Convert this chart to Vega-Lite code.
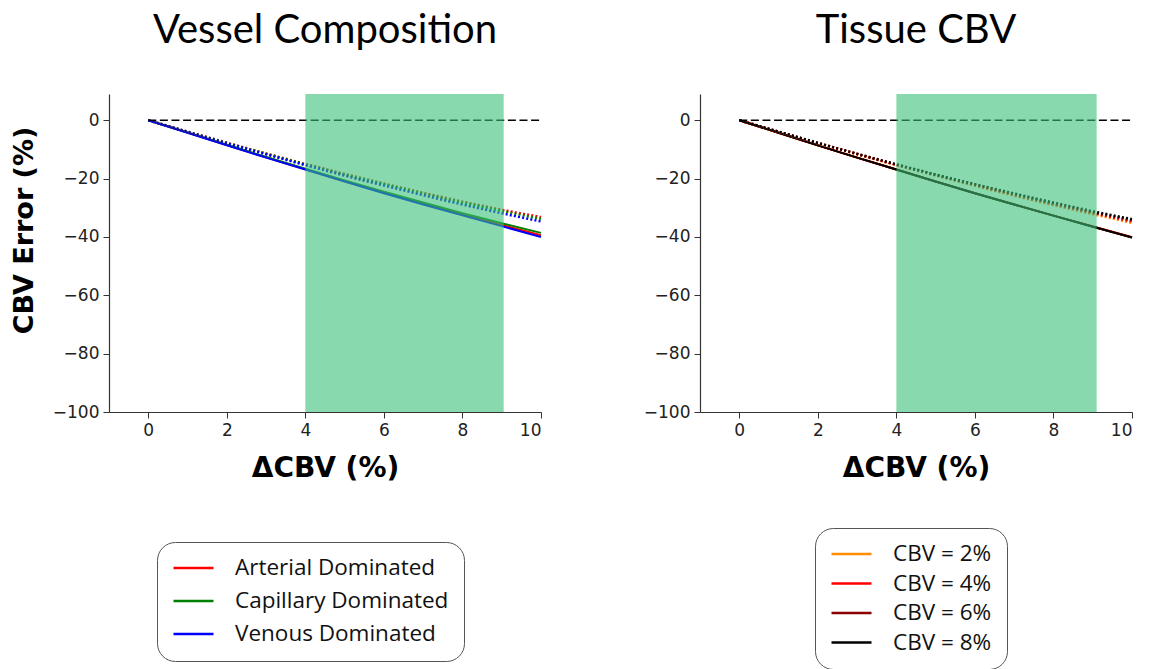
{
  "$schema": "https://vega.github.io/schema/vega-lite/v6.json",
  "padding": {"left": 10, "top": 11, "right": 5, "bottom": 0},
  "background": "white",
  "spacing": 97,
  "config": {
    "view": {"stroke": null},
    "axis": {
      "grid": false,
      "domainColor": "#333",
      "domainWidth": 1.2,
      "tickColor": "#333",
      "tickSize": 6,
      "labelFont": "DejaVu Sans",
      "labelFontSize": 17,
      "labelColor": "#222",
      "labelPadding": 4,
      "titleFont": "DejaVu Sans",
      "titleFontWeight": "bold",
      "titleColor": "#000"
    },
    "title": {"font": "Lato", "fontSize": 40, "fontWeight": "normal", "color": "#000", "offset": 43},
    "legend": {
      "strokeColor": "#555",
      "cornerRadius": 18,
      "padding": 15,
      "fillColor": "white",
      "labelFont": "Open Sans",
      "labelFontSize": 22.5,
      "labelColor": "#111",
      "symbolType": "stroke",
      "symbolSize": 1600,
      "symbolStrokeWidth": 2.5,
      "labelOffset": 20,
      "labelLimit": 400,
      "clipHeight": 22
    }
  },
  "datasets": {
    "left": [
      {"series": "Arterial Dominated", "kind": "solid", "x": 0, "y": 0},
      {"series": "Arterial Dominated", "kind": "solid", "x": 1, "y": -4.25},
      {"series": "Arterial Dominated", "kind": "solid", "x": 2, "y": -8.5},
      {"series": "Arterial Dominated", "kind": "solid", "x": 3, "y": -12.7},
      {"series": "Arterial Dominated", "kind": "solid", "x": 4, "y": -16.8},
      {"series": "Arterial Dominated", "kind": "solid", "x": 5, "y": -20.8},
      {"series": "Arterial Dominated", "kind": "solid", "x": 6, "y": -24.8},
      {"series": "Arterial Dominated", "kind": "solid", "x": 7, "y": -28.6},
      {"series": "Arterial Dominated", "kind": "solid", "x": 8, "y": -32.3},
      {"series": "Arterial Dominated", "kind": "solid", "x": 9, "y": -35.9},
      {"series": "Arterial Dominated", "kind": "solid", "x": 10, "y": -39.4},
      {"series": "Capillary Dominated", "kind": "solid", "x": 0, "y": 0},
      {"series": "Capillary Dominated", "kind": "solid", "x": 1, "y": -4.2},
      {"series": "Capillary Dominated", "kind": "solid", "x": 2, "y": -8.4},
      {"series": "Capillary Dominated", "kind": "solid", "x": 3, "y": -12.6},
      {"series": "Capillary Dominated", "kind": "solid", "x": 4, "y": -16.6},
      {"series": "Capillary Dominated", "kind": "solid", "x": 5, "y": -20.6},
      {"series": "Capillary Dominated", "kind": "solid", "x": 6, "y": -24.5},
      {"series": "Capillary Dominated", "kind": "solid", "x": 7, "y": -28.2},
      {"series": "Capillary Dominated", "kind": "solid", "x": 8, "y": -31.9},
      {"series": "Capillary Dominated", "kind": "solid", "x": 9, "y": -35.3},
      {"series": "Capillary Dominated", "kind": "solid", "x": 10, "y": -38.6},
      {"series": "Venous Dominated", "kind": "solid", "x": 0, "y": 0},
      {"series": "Venous Dominated", "kind": "solid", "x": 1, "y": -4.3},
      {"series": "Venous Dominated", "kind": "solid", "x": 2, "y": -8.6},
      {"series": "Venous Dominated", "kind": "solid", "x": 3, "y": -12.8},
      {"series": "Venous Dominated", "kind": "solid", "x": 4, "y": -16.9},
      {"series": "Venous Dominated", "kind": "solid", "x": 5, "y": -21.0},
      {"series": "Venous Dominated", "kind": "solid", "x": 6, "y": -25.0},
      {"series": "Venous Dominated", "kind": "solid", "x": 7, "y": -28.9},
      {"series": "Venous Dominated", "kind": "solid", "x": 8, "y": -32.6},
      {"series": "Venous Dominated", "kind": "solid", "x": 9, "y": -36.3},
      {"series": "Venous Dominated", "kind": "solid", "x": 10, "y": -40.0},
      {"series": "Arterial Dominated", "kind": "dotted", "x": 0, "y": 0},
      {"series": "Arterial Dominated", "kind": "dotted", "x": 1, "y": -3.9},
      {"series": "Arterial Dominated", "kind": "dotted", "x": 2, "y": -7.7},
      {"series": "Arterial Dominated", "kind": "dotted", "x": 3, "y": -11.4},
      {"series": "Arterial Dominated", "kind": "dotted", "x": 4, "y": -15.0},
      {"series": "Arterial Dominated", "kind": "dotted", "x": 5, "y": -18.4},
      {"series": "Arterial Dominated", "kind": "dotted", "x": 6, "y": -21.7},
      {"series": "Arterial Dominated", "kind": "dotted", "x": 7, "y": -24.9},
      {"series": "Arterial Dominated", "kind": "dotted", "x": 8, "y": -27.9},
      {"series": "Arterial Dominated", "kind": "dotted", "x": 9, "y": -30.7},
      {"series": "Arterial Dominated", "kind": "dotted", "x": 10, "y": -33.2},
      {"series": "Capillary Dominated", "kind": "dotted", "x": 0, "y": 0},
      {"series": "Capillary Dominated", "kind": "dotted", "x": 1, "y": -3.9},
      {"series": "Capillary Dominated", "kind": "dotted", "x": 2, "y": -7.8},
      {"series": "Capillary Dominated", "kind": "dotted", "x": 3, "y": -11.5},
      {"series": "Capillary Dominated", "kind": "dotted", "x": 4, "y": -15.1},
      {"series": "Capillary Dominated", "kind": "dotted", "x": 5, "y": -18.6},
      {"series": "Capillary Dominated", "kind": "dotted", "x": 6, "y": -21.9},
      {"series": "Capillary Dominated", "kind": "dotted", "x": 7, "y": -25.1},
      {"series": "Capillary Dominated", "kind": "dotted", "x": 8, "y": -28.2},
      {"series": "Capillary Dominated", "kind": "dotted", "x": 9, "y": -31.1},
      {"series": "Capillary Dominated", "kind": "dotted", "x": 10, "y": -33.8},
      {"series": "Venous Dominated", "kind": "dotted", "x": 0, "y": 0},
      {"series": "Venous Dominated", "kind": "dotted", "x": 1, "y": -4.0},
      {"series": "Venous Dominated", "kind": "dotted", "x": 2, "y": -7.9},
      {"series": "Venous Dominated", "kind": "dotted", "x": 3, "y": -11.7},
      {"series": "Venous Dominated", "kind": "dotted", "x": 4, "y": -15.4},
      {"series": "Venous Dominated", "kind": "dotted", "x": 5, "y": -19.0},
      {"series": "Venous Dominated", "kind": "dotted", "x": 6, "y": -22.4},
      {"series": "Venous Dominated", "kind": "dotted", "x": 7, "y": -25.7},
      {"series": "Venous Dominated", "kind": "dotted", "x": 8, "y": -28.9},
      {"series": "Venous Dominated", "kind": "dotted", "x": 9, "y": -31.9},
      {"series": "Venous Dominated", "kind": "dotted", "x": 10, "y": -34.7}
    ],
    "right": [
      {"series": "CBV = 2%", "kind": "solid", "x": 0, "y": 0},
      {"series": "CBV = 2%", "kind": "solid", "x": 1, "y": -4.3},
      {"series": "CBV = 2%", "kind": "solid", "x": 2, "y": -8.6},
      {"series": "CBV = 2%", "kind": "solid", "x": 3, "y": -12.8},
      {"series": "CBV = 2%", "kind": "solid", "x": 4, "y": -16.9},
      {"series": "CBV = 2%", "kind": "solid", "x": 5, "y": -21.0},
      {"series": "CBV = 2%", "kind": "solid", "x": 6, "y": -25.0},
      {"series": "CBV = 2%", "kind": "solid", "x": 7, "y": -28.9},
      {"series": "CBV = 2%", "kind": "solid", "x": 8, "y": -32.7},
      {"series": "CBV = 2%", "kind": "solid", "x": 9, "y": -36.4},
      {"series": "CBV = 2%", "kind": "solid", "x": 10, "y": -40.1},
      {"series": "CBV = 4%", "kind": "solid", "x": 0, "y": 0},
      {"series": "CBV = 4%", "kind": "solid", "x": 1, "y": -4.3},
      {"series": "CBV = 4%", "kind": "solid", "x": 2, "y": -8.6},
      {"series": "CBV = 4%", "kind": "solid", "x": 3, "y": -12.8},
      {"series": "CBV = 4%", "kind": "solid", "x": 4, "y": -16.9},
      {"series": "CBV = 4%", "kind": "solid", "x": 5, "y": -21.0},
      {"series": "CBV = 4%", "kind": "solid", "x": 6, "y": -25.0},
      {"series": "CBV = 4%", "kind": "solid", "x": 7, "y": -28.9},
      {"series": "CBV = 4%", "kind": "solid", "x": 8, "y": -32.7},
      {"series": "CBV = 4%", "kind": "solid", "x": 9, "y": -36.4},
      {"series": "CBV = 4%", "kind": "solid", "x": 10, "y": -40.1},
      {"series": "CBV = 6%", "kind": "solid", "x": 0, "y": 0},
      {"series": "CBV = 6%", "kind": "solid", "x": 1, "y": -4.3},
      {"series": "CBV = 6%", "kind": "solid", "x": 2, "y": -8.6},
      {"series": "CBV = 6%", "kind": "solid", "x": 3, "y": -12.8},
      {"series": "CBV = 6%", "kind": "solid", "x": 4, "y": -16.9},
      {"series": "CBV = 6%", "kind": "solid", "x": 5, "y": -21.0},
      {"series": "CBV = 6%", "kind": "solid", "x": 6, "y": -25.0},
      {"series": "CBV = 6%", "kind": "solid", "x": 7, "y": -28.9},
      {"series": "CBV = 6%", "kind": "solid", "x": 8, "y": -32.7},
      {"series": "CBV = 6%", "kind": "solid", "x": 9, "y": -36.4},
      {"series": "CBV = 6%", "kind": "solid", "x": 10, "y": -40.2},
      {"series": "CBV = 8%", "kind": "solid", "x": 0, "y": 0},
      {"series": "CBV = 8%", "kind": "solid", "x": 1, "y": -4.3},
      {"series": "CBV = 8%", "kind": "solid", "x": 2, "y": -8.6},
      {"series": "CBV = 8%", "kind": "solid", "x": 3, "y": -12.8},
      {"series": "CBV = 8%", "kind": "solid", "x": 4, "y": -16.9},
      {"series": "CBV = 8%", "kind": "solid", "x": 5, "y": -21.0},
      {"series": "CBV = 8%", "kind": "solid", "x": 6, "y": -25.0},
      {"series": "CBV = 8%", "kind": "solid", "x": 7, "y": -28.9},
      {"series": "CBV = 8%", "kind": "solid", "x": 8, "y": -32.7},
      {"series": "CBV = 8%", "kind": "solid", "x": 9, "y": -36.5},
      {"series": "CBV = 8%", "kind": "solid", "x": 10, "y": -40.2},
      {"series": "CBV = 2%", "kind": "dotted", "x": 0, "y": 0},
      {"series": "CBV = 2%", "kind": "dotted", "x": 1, "y": -4.0},
      {"series": "CBV = 2%", "kind": "dotted", "x": 2, "y": -7.9},
      {"series": "CBV = 2%", "kind": "dotted", "x": 3, "y": -11.7},
      {"series": "CBV = 2%", "kind": "dotted", "x": 4, "y": -15.4},
      {"series": "CBV = 2%", "kind": "dotted", "x": 5, "y": -19.0},
      {"series": "CBV = 2%", "kind": "dotted", "x": 6, "y": -22.5},
      {"series": "CBV = 2%", "kind": "dotted", "x": 7, "y": -25.9},
      {"series": "CBV = 2%", "kind": "dotted", "x": 8, "y": -29.1},
      {"series": "CBV = 2%", "kind": "dotted", "x": 9, "y": -32.2},
      {"series": "CBV = 2%", "kind": "dotted", "x": 10, "y": -35.2},
      {"series": "CBV = 4%", "kind": "dotted", "x": 0, "y": 0},
      {"series": "CBV = 4%", "kind": "dotted", "x": 1, "y": -3.95},
      {"series": "CBV = 4%", "kind": "dotted", "x": 2, "y": -7.85},
      {"series": "CBV = 4%", "kind": "dotted", "x": 3, "y": -11.6},
      {"series": "CBV = 4%", "kind": "dotted", "x": 4, "y": -15.3},
      {"series": "CBV = 4%", "kind": "dotted", "x": 5, "y": -18.8},
      {"series": "CBV = 4%", "kind": "dotted", "x": 6, "y": -22.2},
      {"series": "CBV = 4%", "kind": "dotted", "x": 7, "y": -25.6},
      {"series": "CBV = 4%", "kind": "dotted", "x": 8, "y": -28.8},
      {"series": "CBV = 4%", "kind": "dotted", "x": 9, "y": -31.8},
      {"series": "CBV = 4%", "kind": "dotted", "x": 10, "y": -34.7},
      {"series": "CBV = 6%", "kind": "dotted", "x": 0, "y": 0},
      {"series": "CBV = 6%", "kind": "dotted", "x": 1, "y": -3.9},
      {"series": "CBV = 6%", "kind": "dotted", "x": 2, "y": -7.8},
      {"series": "CBV = 6%", "kind": "dotted", "x": 3, "y": -11.55},
      {"series": "CBV = 6%", "kind": "dotted", "x": 4, "y": -15.2},
      {"series": "CBV = 6%", "kind": "dotted", "x": 5, "y": -18.7},
      {"series": "CBV = 6%", "kind": "dotted", "x": 6, "y": -22.1},
      {"series": "CBV = 6%", "kind": "dotted", "x": 7, "y": -25.3},
      {"series": "CBV = 6%", "kind": "dotted", "x": 8, "y": -28.5},
      {"series": "CBV = 6%", "kind": "dotted", "x": 9, "y": -31.5},
      {"series": "CBV = 6%", "kind": "dotted", "x": 10, "y": -34.3},
      {"series": "CBV = 8%", "kind": "dotted", "x": 0, "y": 0},
      {"series": "CBV = 8%", "kind": "dotted", "x": 1, "y": -3.9},
      {"series": "CBV = 8%", "kind": "dotted", "x": 2, "y": -7.75},
      {"series": "CBV = 8%", "kind": "dotted", "x": 3, "y": -11.5},
      {"series": "CBV = 8%", "kind": "dotted", "x": 4, "y": -15.1},
      {"series": "CBV = 8%", "kind": "dotted", "x": 5, "y": -18.6},
      {"series": "CBV = 8%", "kind": "dotted", "x": 6, "y": -21.9},
      {"series": "CBV = 8%", "kind": "dotted", "x": 7, "y": -25.1},
      {"series": "CBV = 8%", "kind": "dotted", "x": 8, "y": -28.2},
      {"series": "CBV = 8%", "kind": "dotted", "x": 9, "y": -31.2},
      {"series": "CBV = 8%", "kind": "dotted", "x": 10, "y": -33.9}
    ],
    "zeroLine": [{"x": 0, "x2": 10, "y": 0}],
    "bandLeft": [{"x": 4, "x2": 9.05}],
    "bandRight": [{"x": 4, "x2": 9.1}]
  },
  "hconcat": [
    {
      "width": 432,
      "height": 318,
      "title": {"text": "Vessel Composition"},
      "layer": [
        {
          "data": {"name": "left"},
          "transform": [{"filter": "datum.kind == 'solid'"}],
          "mark": {"type": "line", "strokeWidth": 2},
          "encoding": {
            "x": {"field": "x", "type": "quantitative", "scale": {"domain": [-1, 10], "nice": false, "zero": false},
                  "axis": {"values": [0, 2, 4, 6, 8, 10], "title": "ΔCBV (%)", "titleFontSize": 28, "titlePadding": 16}},
            "y": {"field": "y", "type": "quantitative", "scale": {"domain": [-100, 9], "nice": false},
                  "axis": {"values": [-100, -80, -60, -40, -20, 0], "title": "CBV Error (%)", "titleFontSize": 27, "titlePadding": 14, "titleY": 136}},
            "color": {"field": "series", "type": "nominal",
                      "scale": {"domain": ["Arterial Dominated", "Capillary Dominated", "Venous Dominated"], "range": ["#ff0000", "#008000", "#0000ff"]},
                      "legend": {"title": null, "orient": "none", "legendX": 48, "legendY": 448, "rowPadding": 10}}
          }
        },
        {
          "data": {"name": "left"},
          "transform": [{"filter": "datum.kind == 'dotted'"}],
          "mark": {"type": "line", "strokeWidth": 2.5, "strokeDash": [2, 2.2]},
          "encoding": {
            "x": {"field": "x", "type": "quantitative"},
            "y": {"field": "y", "type": "quantitative"},
            "color": {"field": "series", "type": "nominal"}
          }
        },
        {
          "data": {"name": "zeroLine"},
          "mark": {"type": "rule", "color": "black", "strokeWidth": 1.5, "strokeDash": [8, 3.6]},
          "encoding": {
            "x": {"field": "x", "type": "quantitative"},
            "x2": {"field": "x2"},
            "y": {"field": "y", "type": "quantitative"}
          }
        },
        {
          "data": {"name": "bandLeft"},
          "mark": {"type": "rect", "color": "#39c078", "opacity": 0.6},
          "encoding": {
            "x": {"field": "x", "type": "quantitative"},
            "x2": {"field": "x2"}
          }
        }
      ]
    },
    {
      "width": 432,
      "height": 318,
      "title": {"text": "Tissue CBV"},
      "layer": [
        {
          "data": {"name": "right"},
          "transform": [{"filter": "datum.kind == 'solid'"}],
          "mark": {"type": "line", "strokeWidth": 2},
          "encoding": {
            "x": {"field": "x", "type": "quantitative", "scale": {"domain": [-1, 10], "nice": false, "zero": false},
                  "axis": {"values": [0, 2, 4, 6, 8, 10], "title": "ΔCBV (%)", "titleFontSize": 28, "titlePadding": 16}},
            "y": {"field": "y", "type": "quantitative", "scale": {"domain": [-100, 9], "nice": false},
                  "axis": {"values": [-100, -80, -60, -40, -20, 0], "title": null}},
            "color": {"field": "series", "type": "nominal",
                      "scale": {"domain": ["CBV = 2%", "CBV = 4%", "CBV = 6%", "CBV = 8%"], "range": ["#ff8c00", "#ff0000", "#8b0000", "#000000"]},
                      "legend": {"title": null, "orient": "none", "legendX": 115, "legendY": 434, "rowPadding": 6.5}}
          }
        },
        {
          "data": {"name": "right"},
          "transform": [{"filter": "datum.kind == 'dotted'"}],
          "mark": {"type": "line", "strokeWidth": 2.5, "strokeDash": [2, 2.2]},
          "encoding": {
            "x": {"field": "x", "type": "quantitative"},
            "y": {"field": "y", "type": "quantitative"},
            "color": {"field": "series", "type": "nominal"}
          }
        },
        {
          "data": {"name": "zeroLine"},
          "mark": {"type": "rule", "color": "black", "strokeWidth": 1.5, "strokeDash": [8, 3.6]},
          "encoding": {
            "x": {"field": "x", "type": "quantitative"},
            "x2": {"field": "x2"},
            "y": {"field": "y", "type": "quantitative"}
          }
        },
        {
          "data": {"name": "bandRight"},
          "mark": {"type": "rect", "color": "#39c078", "opacity": 0.6},
          "encoding": {
            "x": {"field": "x", "type": "quantitative"},
            "x2": {"field": "x2"}
          }
        }
      ]
    }
  ],
  "resolve": {"scale": {"color": "independent", "x": "independent", "y": "independent"}, "legend": {"color": "independent"}}
}
